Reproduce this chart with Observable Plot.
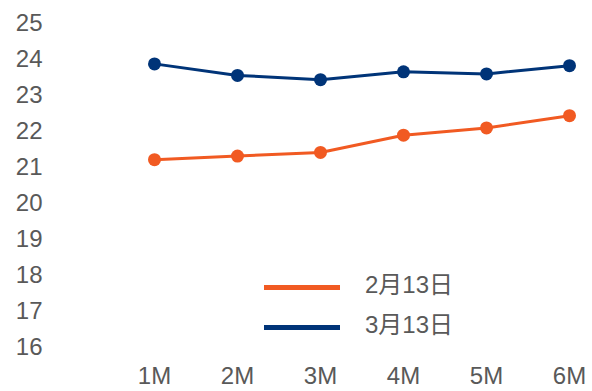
<!DOCTYPE html>
<html>
<head>
<meta charset="utf-8">
<script src="https://cdn.jsdelivr.net/npm/d3@7"></script>
<script src="https://cdn.jsdelivr.net/npm/@observablehq/plot@0.6"></script>
<style>
  html, body { margin: 0; padding: 0; background: #fff; }
  #wrap { position: relative; width: 592px; height: 391px; font-family: "Liberation Sans", Arial, "Noto Sans CJK SC", sans-serif; }
  .sw { position: absolute; left: 264px; width: 76px; height: 5px; }
  .lab { position: absolute; left: 365px; font-size: 24px; line-height: 24px; height: 24px; color: #595959; white-space: nowrap; }
</style>
</head>
<body>
<div id="wrap"></div>
<script>
const tenors = ["1M", "2M", "3M", "4M", "5M", "6M"];
const seriesNames = ["2月13日", "3月13日"];
const feb13 = [21.21, 21.31, 21.41, 21.89, 22.09, 22.43];
const mar13 = [23.87, 23.55, 23.43, 23.65, 23.59, 23.82];
const colors = ["#F15A22", "#003478"];
const yTicks = [16, 17, 18, 19, 20, 21, 22, 23, 24, 25];

const data = [];
tenors.forEach((t, i) => {
  data.push({tenor: t, series: seriesNames[0], value: feb13[i]});
  data.push({tenor: t, series: seriesNames[1], value: mar13[i]});
});

const chart = Plot.plot({
  width: 592,
  height: 391,
  marginLeft: 48,
  marginRight: 22,
  marginTop: 22.7,
  marginBottom: 44.3,
  style: {fontFamily: '"Liberation Sans", Arial, sans-serif', fontSize: "24px", color: "#595959", background: "#fff"},
  x: {type: "point", domain: tenors, range: [152, 570], padding: 0, label: null},
  y: {domain: [16, 25], label: null},
  color: {domain: seriesNames, range: colors},
  marks: [
    Plot.axisY({ticks: yTicks, tickSize: 0, tickPadding: 6, label: null, fontSize: 24, fill: "#595959"}),
    Plot.axisX({tickSize: 0, tickPadding: 20, label: null, fontSize: 24, fill: "#595959"}),
    Plot.line(data, {x: "tenor", y: "value", z: "series", stroke: "series", strokeWidth: 3}),
    Plot.dot(data, {x: "tenor", y: "value", fill: "series", r: 6.5})
  ]
});

const wrap = document.getElementById("wrap");
wrap.appendChild(chart);

const swatchTops = [284.5, 325];
const labelTops = [273, 313];
seriesNames.forEach((name, i) => {
  const sw = document.createElement("div");
  sw.className = "sw";
  sw.style.top = swatchTops[i] + "px";
  sw.style.background = colors[i];
  const label = document.createElement("div");
  label.className = "lab";
  label.style.top = labelTops[i] + "px";
  label.textContent = name;
  wrap.appendChild(sw);
  wrap.appendChild(label);
});
</script>
</body>
</html>
